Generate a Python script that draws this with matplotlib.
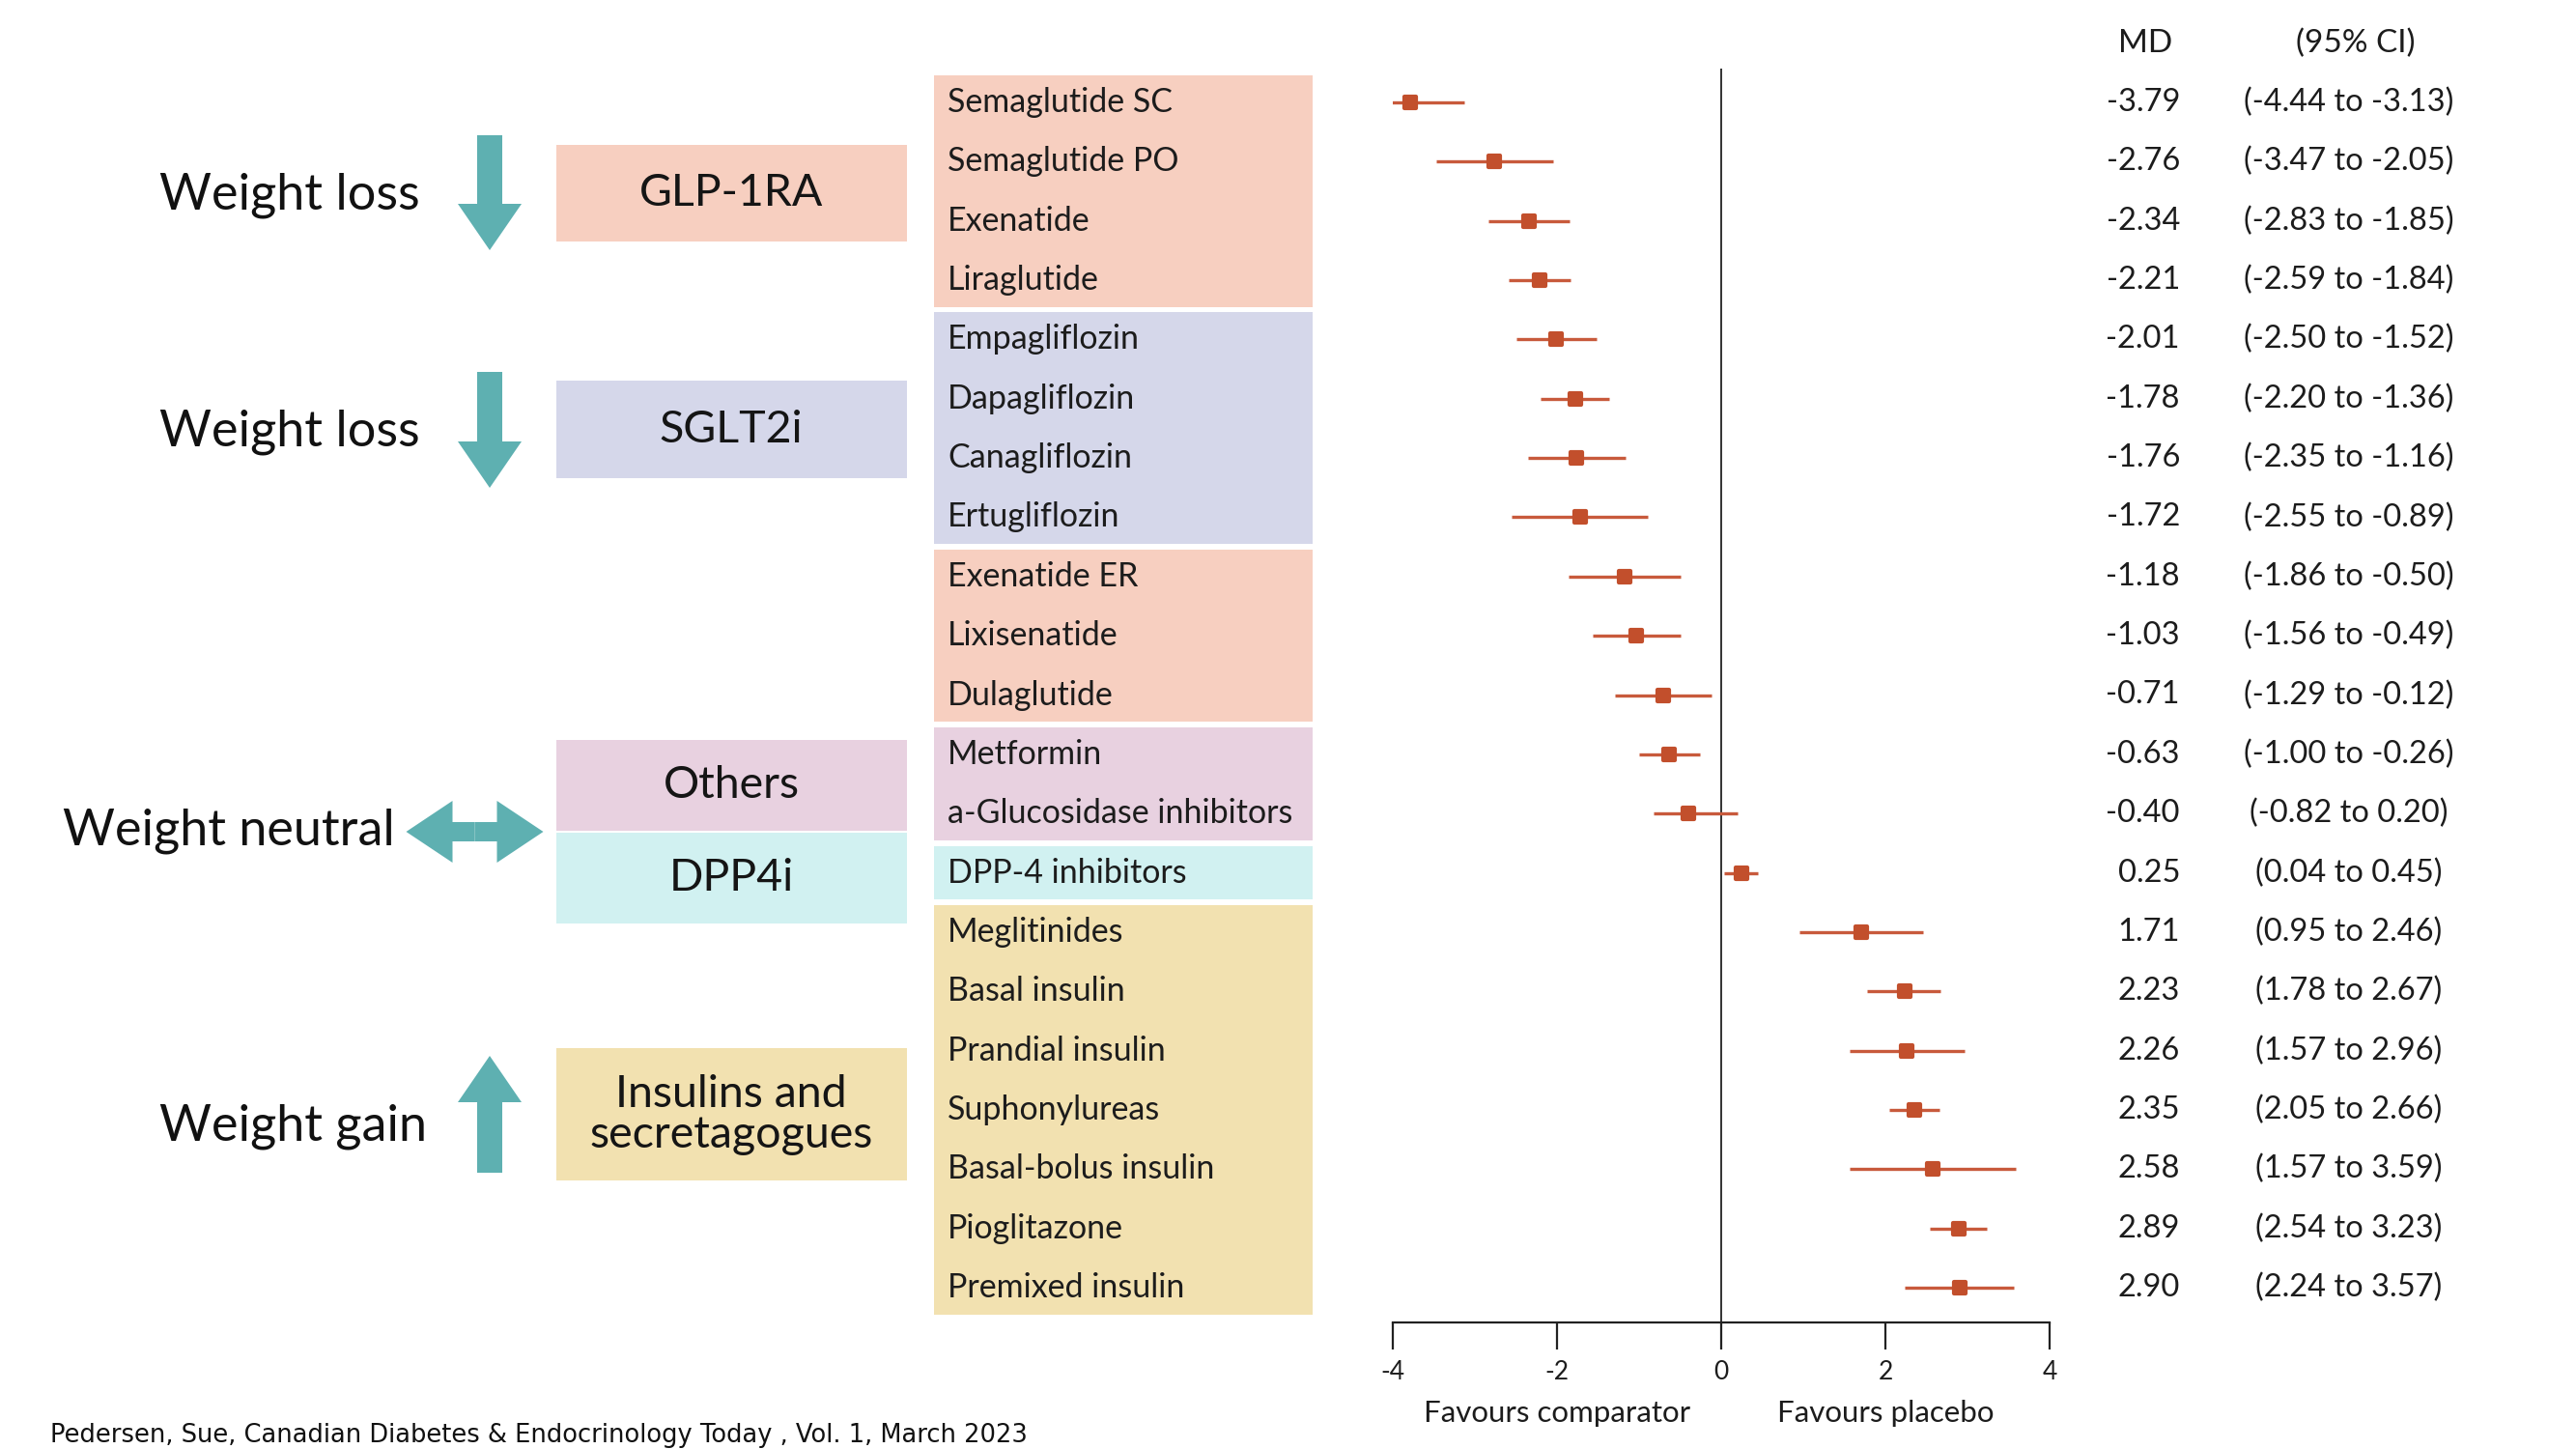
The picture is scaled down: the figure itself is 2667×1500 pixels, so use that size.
import matplotlib
matplotlib.use('Agg')
import matplotlib.pyplot as plt
import matplotlib.patches as mpatches
from matplotlib.markers import MarkerStyle
from matplotlib.transforms import blended_transform_factory

plt.rcParams['font.family'] = ['Lato', 'DejaVu Sans']
plt.rcParams['axes.unicode_minus'] = False

drugs = ['Semaglutide SC', 'Semaglutide PO', 'Exenatide', 'Liraglutide',
         'Empagliflozin', 'Dapagliflozin', 'Canagliflozin', 'Ertugliflozin',
         'Exenatide ER', 'Lixisenatide', 'Dulaglutide',
         'Metformin', 'a-Glucosidase inhibitors',
         'DPP-4 inhibitors',
         'Meglitinides', 'Basal insulin', 'Prandial insulin', 'Suphonylureas',
         'Basal-bolus insulin', 'Pioglitazone', 'Premixed insulin']
md = [-3.79, -2.76, -2.34, -2.21, -2.01, -1.78, -1.76, -1.72, -1.18, -1.03, -0.71,
      -0.63, -0.40, 0.25, 1.71, 2.23, 2.26, 2.35, 2.58, 2.89, 2.90]
ci_low = [-4.44, -3.47, -2.83, -2.59, -2.50, -2.20, -2.35, -2.55, -1.86, -1.56, -1.29,
          -1.00, -0.82, 0.04, 0.95, 1.78, 1.57, 2.05, 1.57, 2.54, 2.24]
ci_high = [-3.13, -2.05, -1.85, -1.84, -1.52, -1.36, -1.16, -0.89, -0.50, -0.49, -0.12,
           -0.26, 0.20, 0.45, 2.46, 2.67, 2.96, 2.66, 3.59, 3.23, 3.57]
drug_class = ['glp'] * 4 + ['sglt'] * 4 + ['glp'] * 3 + ['other'] * 2 + ['dpp'] + ['ins'] * 7

class_names = ['GLP-1RA', 'SGLT2i', 'Others', 'DPP4i', 'Insulins and\nsecretagogues']
class_keys = ['glp', 'sglt', 'other', 'dpp', 'ins']
effects = ['Weight loss', 'Weight loss', 'Weight neutral', 'Weight gain']
xticks = [-4, -2, 0, 2, 4]

colors = {'glp': '#f7cfc0', 'sglt': '#d5d7ea', 'other': '#e8d1e0',
          'dpp': '#d1f1f1', 'ins': '#f2e1b0'}
teal = '#5eb0b1'
dot = '#c24f2c'
bar = '#c85a3c'
ink = '#1c1c1c'

W, H = 2667, 1500
fig = plt.figure(figsize=(W / 100, H / 100), dpi=100)
bg = fig.add_axes([0, 0, 1, 1])
bg.set_xlim(0, W)
bg.set_ylim(H, 0)
bg.axis('off')

# forest panel, placed in pixels
x0, x1, ytop, ybot = 1442, 2122, 71, 1369
ax = fig.add_axes([x0 / W, 1 - ybot / H, (x1 - x0) / W, (ybot - ytop) / H])
row0, step = 106, 61.35
rows = list(range(len(drugs)))
ax.set_xlim(-4, 4)
ax.set_ylim((ybot - row0) / step, (ytop - row0) / step)
ax.patch.set_alpha(0)

ax.axvline(0, color='#222222', lw=1.3)
ax.hlines(rows, ci_low, ci_high, color=bar, lw=2.4)
ax.plot(md, rows, linestyle='none', marker=MarkerStyle('s', joinstyle='round'),
        ms=8.5, color=dot, mec=dot, mew=3)

for s in ['left', 'top', 'right']:
    ax.spines[s].set_visible(False)
ax.spines['bottom'].set_linewidth(1.6)
ax.spines['bottom'].set_color('#222222')
ax.set_yticks([])
ax.set_xticks(xticks)
ax.set_xticklabels([str(t) for t in xticks])
ax.tick_params(axis='x', direction='out', length=20, width=1.6, color='#222222',
               labelsize=19, pad=8, labelcolor=ink)

px_row = blended_transform_factory(bg.transData, ax.transData)
data_px = blended_transform_factory(ax.transData, bg.transData)

# drug boxes, one per run of the same class
i = 0
while i < len(drugs):
    j = i
    while j + 1 < len(drugs) and drug_class[j + 1] == drug_class[i]:
        j += 1
    top = i - 0.5 + 0.045
    bot = j + 0.5 - 0.045
    bg.add_patch(mpatches.Rectangle((967, top), 1359 - 967, bot - top,
                                    transform=px_row, color=colors[drug_class[i]], lw=0))
    i = j + 1

for r, name in enumerate(drugs):
    bg.text(981, r, name, transform=px_row, fontsize=24.5, va='center', ha='left', color=ink)
    bg.text(2257, r, f'{md[r]:.2f}', transform=px_row, fontsize=23.5, va='center', ha='right',
            color=ink)
    bg.text(2432, r, f'({ci_low[r]:.2f} to {ci_high[r]:.2f})', transform=px_row, fontsize=23.5,
            va='center', ha='center', color=ink)

bg.text(2221, 45, 'MD', fontsize=24, va='center', ha='center', color=ink)
bg.text(2439, 45, '(95% CI)', fontsize=24, va='center', ha='center', color=ink)

bg.text(-2, 1463, 'Favours comparator', transform=data_px, fontsize=22.5, va='center',
        ha='center', color=ink)
bg.text(2, 1463, 'Favours placebo', transform=data_px, fontsize=22.5, va='center',
        ha='center', color=ink)

# class boxes
class_boxes = [(150, 250), (394, 495), (766, 860), (862, 956), (1085, 1222)]
for (t, b), key, name in zip(class_boxes, class_keys, class_names):
    bg.add_patch(mpatches.Rectangle((576, t), 939 - 576, b - t, color=colors[key], lw=0))
    bg.text(757, (t + b) / 2, name, fontsize=33.5, va='center', ha='center',
            color='#151515', linespacing=1.0)

# effect labels and arrows
effect_pos = [(165, 202), (165, 447), (65, 860), (165, 1166)]
for (x, y), lab in zip(effect_pos, effects):
    bg.text(x, y, lab, fontsize=37.5, va='center', ha='left', color='#111111')

for y_start, y_len in [(140, 119), (385, 120), (1214, -121)]:
    bg.add_patch(mpatches.FancyArrow(507, y_start, 0, y_len, width=26, head_width=66,
                                     head_length=48, length_includes_head=True,
                                     color=teal, lw=0))
for dx in (-71, 71):
    bg.add_patch(mpatches.FancyArrow(491.5, 861, dx, 0, width=20, head_width=64,
                                     head_length=48, length_includes_head=True,
                                     color=teal, lw=0))

fig.text(52 / W, 1 / H, 'Pedersen, Sue, Canadian Diabetes & Endocrinology Today , Vol. 1, March 2023',
         fontsize=18.5, family='DejaVu Sans', va='bottom', ha='left', color='#111111')

fig.savefig('out.png', dpi=100)
